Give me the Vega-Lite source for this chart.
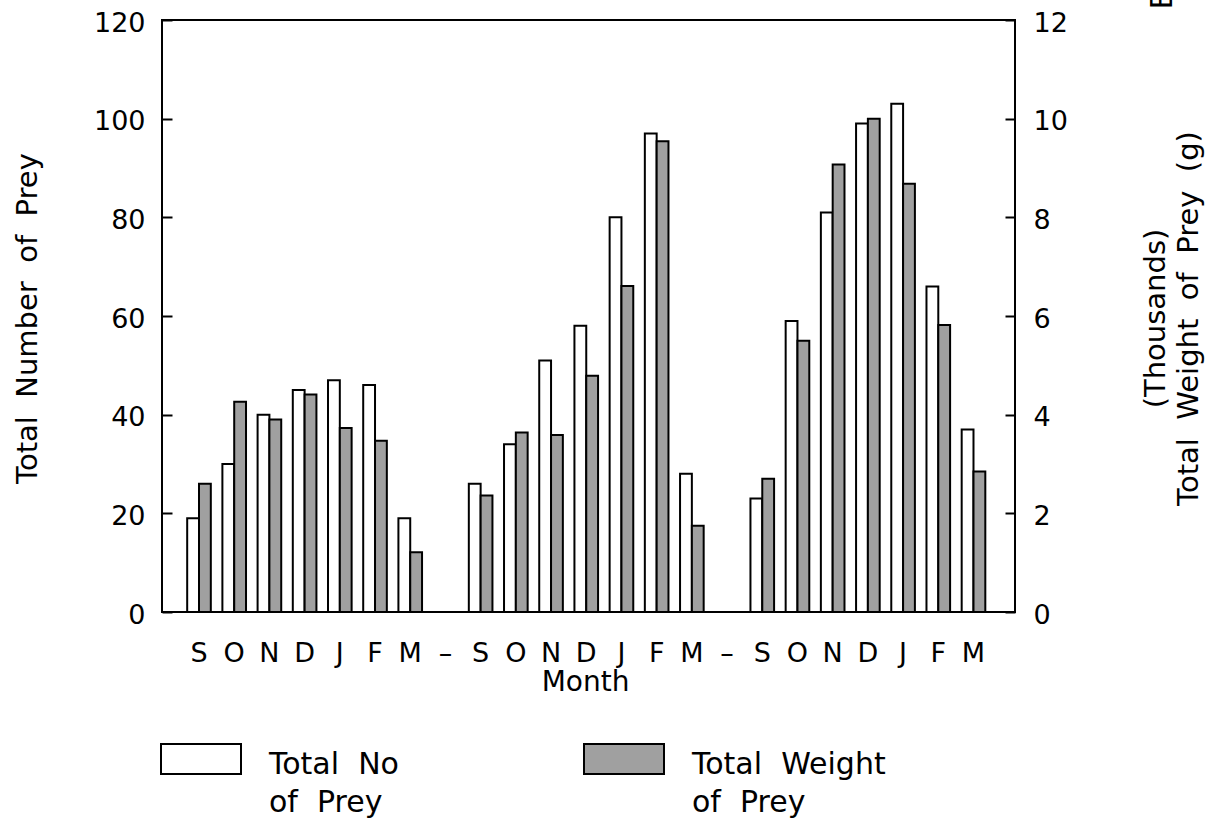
{
  "$schema": "https://vega.github.io/schema/vega-lite/v6.json",
  "width": 853,
  "height": 592,
  "autosize": {"type": "none"},
  "padding": {"left": 162, "top": 20, "right": 200, "bottom": 208},
  "background": "white",
  "title": {
    "text": "B",
    "orient": "top",
    "anchor": "end",
    "frame": "group",
    "angle": -90,
    "align": "left",
    "baseline": "alphabetic",
    "font": "DejaVu Sans",
    "fontSize": 30,
    "fontWeight": "normal",
    "color": "black",
    "offset": -5,
    "dx": -16,
    "dy": 157
  },
  "config": {
    "font": "DejaVu Sans",
    "view": {"stroke": "black", "strokeWidth": 2},
    "style": {"guide-label": {"lineHeight": 38}},
    "axis": {
      "grid": false,
      "domain": false,
      "labelFont": "DejaVu Sans",
      "labelFontSize": 27,
      "labelColor": "black",
      "titleFont": "DejaVu Sans",
      "titleFontSize": 29,
      "titleFontWeight": "normal",
      "titleColor": "black",
      "tickColor": "black",
      "tickWidth": 2
    },
    "legend": {
      "labelFont": "DejaVu Sans",
      "labelFontSize": 30,
      "labelColor": "black"
    }
  },
  "data": {
    "values": [
      {"slot": "1S", "series": "Total No of Prey", "value": 19},
      {"slot": "1S", "series": "Total Weight of Prey", "value": 2.6},
      {"slot": "1O", "series": "Total No of Prey", "value": 30},
      {"slot": "1O", "series": "Total Weight of Prey", "value": 4.26},
      {"slot": "1N", "series": "Total No of Prey", "value": 40},
      {"slot": "1N", "series": "Total Weight of Prey", "value": 3.9},
      {"slot": "1D", "series": "Total No of Prey", "value": 45},
      {"slot": "1D", "series": "Total Weight of Prey", "value": 4.41},
      {"slot": "1J", "series": "Total No of Prey", "value": 47},
      {"slot": "1J", "series": "Total Weight of Prey", "value": 3.73},
      {"slot": "1F", "series": "Total No of Prey", "value": 46},
      {"slot": "1F", "series": "Total Weight of Prey", "value": 3.47},
      {"slot": "1M", "series": "Total No of Prey", "value": 19},
      {"slot": "1M", "series": "Total Weight of Prey", "value": 1.21},
      {"slot": "2S", "series": "Total No of Prey", "value": 26},
      {"slot": "2S", "series": "Total Weight of Prey", "value": 2.36},
      {"slot": "2O", "series": "Total No of Prey", "value": 34},
      {"slot": "2O", "series": "Total Weight of Prey", "value": 3.64},
      {"slot": "2N", "series": "Total No of Prey", "value": 51},
      {"slot": "2N", "series": "Total Weight of Prey", "value": 3.59},
      {"slot": "2D", "series": "Total No of Prey", "value": 58},
      {"slot": "2D", "series": "Total Weight of Prey", "value": 4.79},
      {"slot": "2J", "series": "Total No of Prey", "value": 80},
      {"slot": "2J", "series": "Total Weight of Prey", "value": 6.61},
      {"slot": "2F", "series": "Total No of Prey", "value": 97},
      {"slot": "2F", "series": "Total Weight of Prey", "value": 9.54},
      {"slot": "2M", "series": "Total No of Prey", "value": 28},
      {"slot": "2M", "series": "Total Weight of Prey", "value": 1.75},
      {"slot": "3S", "series": "Total No of Prey", "value": 23},
      {"slot": "3S", "series": "Total Weight of Prey", "value": 2.7},
      {"slot": "3O", "series": "Total No of Prey", "value": 59},
      {"slot": "3O", "series": "Total Weight of Prey", "value": 5.5},
      {"slot": "3N", "series": "Total No of Prey", "value": 81},
      {"slot": "3N", "series": "Total Weight of Prey", "value": 9.07},
      {"slot": "3D", "series": "Total No of Prey", "value": 99},
      {"slot": "3D", "series": "Total Weight of Prey", "value": 10.0},
      {"slot": "3J", "series": "Total No of Prey", "value": 103},
      {"slot": "3J", "series": "Total Weight of Prey", "value": 8.68},
      {"slot": "3F", "series": "Total No of Prey", "value": 66},
      {"slot": "3F", "series": "Total Weight of Prey", "value": 5.82},
      {"slot": "3M", "series": "Total No of Prey", "value": 37},
      {"slot": "3M", "series": "Total Weight of Prey", "value": 2.85}
    ]
  },
  "layer": [
    {
      "transform": [{"filter": "datum.series === 'Total No of Prey'"}],
      "mark": {"type": "bar", "stroke": "black", "strokeWidth": 2},
      "encoding": {
        "x": {
          "field": "slot",
          "type": "nominal",
          "sort": null,
          "scale": {
            "domain": ["1S", "1O", "1N", "1D", "1J", "1F", "1M", "1-", "2S", "2O", "2N", "2D", "2J", "2F", "2M", "2-", "3S", "3O", "3N", "3D", "3J", "3F", "3M"],
            "paddingInner": 0,
            "paddingOuter": 0.615,
            "align": 0.448
          },
          "axis": {
            "title": "Month",
            "titleFontSize": 28,
            "labelExpr": "substring(datum.value, 1) === '-' ? '–' : substring(datum.value, 1)",
            "labelAngle": 0,
            "ticks": false,
            "labelPadding": 41,
            "labelBaseline": "middle",
            "titleX": 423,
            "titleY": 70,
            "titleBaseline": "middle"
          }
        },
        "xOffset": {
          "field": "series",
          "type": "nominal",
          "scale": {"domain": ["Total No of Prey", "Total Weight of Prey"], "paddingInner": 0, "paddingOuter": 0.49}
        },
        "y": {
          "field": "value",
          "type": "quantitative",
          "scale": {"domain": [0, 120]},
          "axis": {
            "orient": "left",
            "title": "Total\u00a0 Number\u00a0 of\u00a0 Prey",
            "values": [0, 20, 40, 60, 80, 100, 120],
            "tickSize": -10,
            "labelPadding": 27,
            "labelOffset": 3,
            "titleX": -135,
            "titleY": 298,
            "titleAngle": -90,
            "titleBaseline": "middle",
            "titleAlign": "center"
          }
        },
        "fill": {
          "field": "series",
          "type": "nominal",
          "scale": {"domain": ["Total No of Prey", "Total Weight of Prey"], "range": ["white", "#a0a0a0"]},
          "legend": {
            "orient": "none",
            "legendX": -2,
            "legendY": 689,
            "direction": "horizontal",
            "title": null,
            "padding": 0,
            "symbolType": "M-1,-0.15H1V0.6H-1Z",
            "symbolSize": 6400,
            "symbolStrokeColor": "black",
            "symbolStrokeWidth": 2,
            "labelOffset": 27,
            "labelLimit": 0,
            "columnPadding": 181,
            "labelBaseline": "top",
            "labelExpr": "datum.label === 'Total No of Prey' ? ['Total\u00a0 No', 'of\u00a0 Prey'] : ['Total\u00a0 Weight', 'of\u00a0 Prey']"
          }
        }
      }
    },
    {
      "transform": [{"filter": "datum.series === 'Total Weight of Prey'"}],
      "mark": {"type": "bar", "stroke": "black", "strokeWidth": 2},
      "encoding": {
        "x": {
          "field": "slot",
          "type": "nominal",
          "sort": null
        },
        "xOffset": {
          "field": "series",
          "type": "nominal"
        },
        "y": {
          "field": "value",
          "type": "quantitative",
          "scale": {"domain": [0, 12]},
          "axis": {
            "orient": "right",
            "title": ["(Thousands)", "Total\u00a0 Weight\u00a0 of\u00a0 Prey\u00a0 (g)"],
            "values": [0, 2, 4, 6, 8, 10, 12],
            "tickSize": -10,
            "labelPadding": 28,
            "labelOffset": 3,
            "titleX": 140,
            "titleY": 298,
            "titleAngle": -90,
            "titleBaseline": "middle",
            "titleAlign": "center",
            "titleLineHeight": 33
          }
        },
        "fill": {
          "field": "series",
          "type": "nominal"
        }
      }
    }
  ],
  "resolve": {"scale": {"y": "independent"}}
}
